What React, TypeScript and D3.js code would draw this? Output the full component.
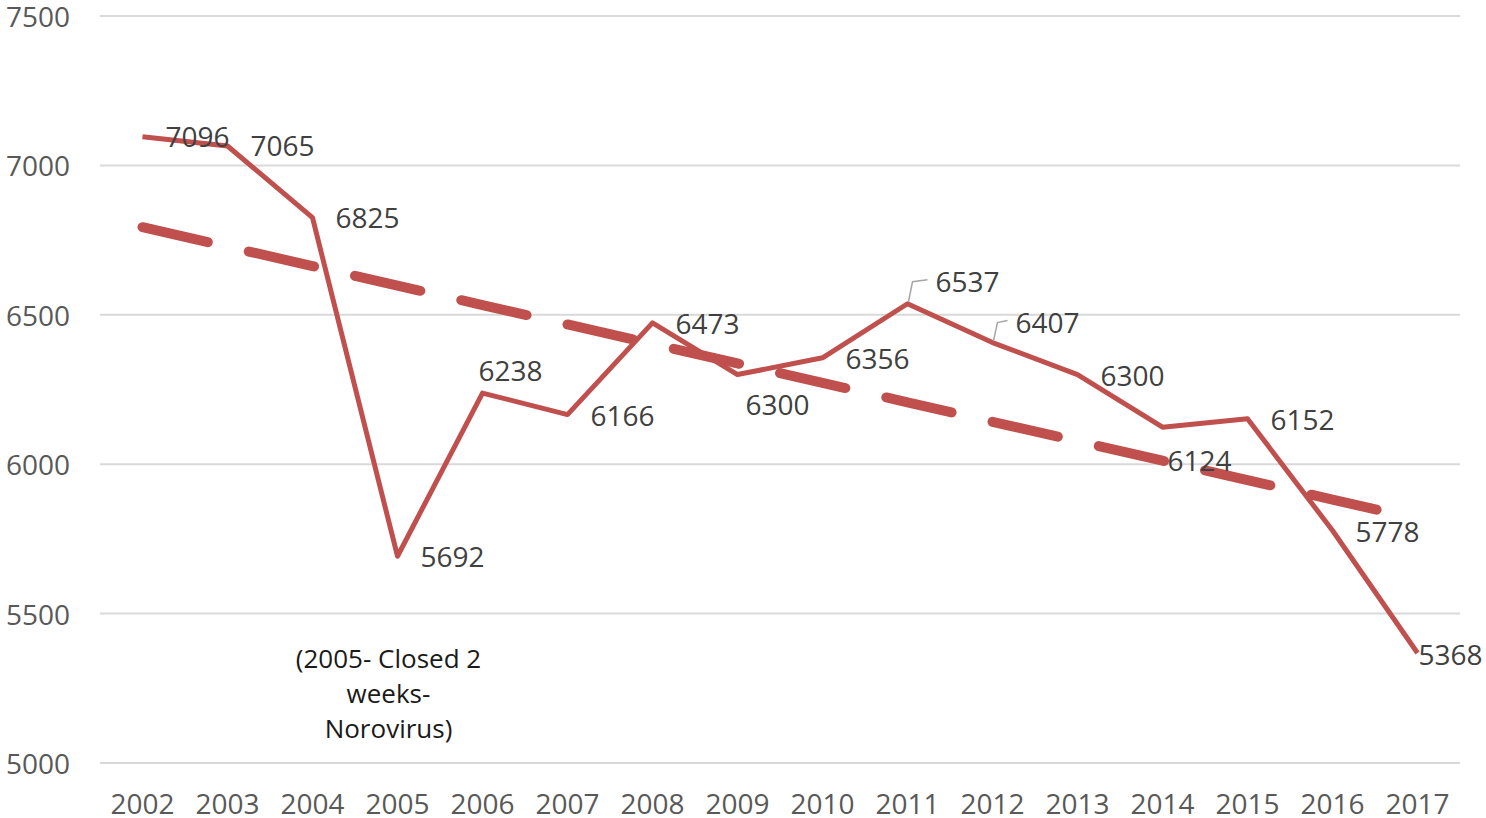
import React from "react";
import * as d3 from "d3";

const years = ["2002", "2003", "2004", "2005", "2006", "2007", "2008", "2009", "2010", "2011", "2012", "2013", "2014", "2015", "2016", "2017"];
const visitors = [7096, 7065, 6825, 5692, 6238, 6166, 6473, 6300, 6356, 6537, 6407, 6300, 6124, 6152, 5778, 5368];
const yTicks = [5000, 5500, 6000, 6500, 7000, 7500];
const noteLines = ["(2005- Closed 2", "weeks-", "Norovirus)"];

// label placement (px offsets from the point), like Excel's manually dragged labels
const labelOffsets: [number, number][] = [
  [23, -1], [23, -1], [23, -1], [23, 0], [-4, -23], [23, 0], [23, 0], [8, 29],
  [23, 0], [28, -23], [23, -21], [23, 0], [5, 33], [23, 0], [23, 0], [1, 1],
];
const leaderLabels = ["2011", "2012"];

const W = 1486;
const H = 818;
const margin = { top: 16, right: 26, bottom: 55, left: 100 };
const RED = "#C0504D";
const FONT = "'Open Sans', sans-serif";

export default function App() {
  const x = d3
    .scaleBand()
    .domain(years)
    .range([margin.left, W - margin.right])
    .padding(0);
  const cx = (yr: string) => (x(yr) as number) + x.bandwidth() / 2;
  const y = d3
    .scaleLinear()
    .domain([5000, 7500])
    .range([H - margin.bottom, margin.top]);

  const line = d3
    .line<number>()
    .x((_, i) => cx(years[i]))
    .y((d) => y(d));

  // linear trend, same as Excel's linear trendline
  const idx = visitors.map((_, i) => i);
  const mx = d3.mean(idx) as number;
  const my = d3.mean(visitors) as number;
  const slope =
    d3.sum(idx, (i) => (i - mx) * (visitors[i] - my)) /
    d3.sum(idx, (i) => (i - mx) ** 2);
  const trend = idx.map((i) => my + slope * (i - mx));

  return (
    <svg
      width={W}
      height={H}
      style={{ position: "absolute", left: 0, top: 0, background: "#fff" }}
      fontFamily={FONT}
    >
      {yTicks.map((t) => (
        <g key={t}>
          <line x1={margin.left} x2={W - margin.right} y1={y(t)} y2={y(t)} stroke="#D9D9D9" strokeWidth={2} />
          <text x={70} y={y(t)} textAnchor="end" dominantBaseline="central" fontSize={28} fill="#595959">
            {t}
          </text>
        </g>
      ))}
      {years.map((yr) => (
        <text key={yr} x={cx(yr)} y={H - 15} textAnchor="middle" dominantBaseline="central" fontSize={28} fill="#595959">
          {yr}
        </text>
      ))}

      <path
        d={line(trend) || ""}
        fill="none"
        stroke={RED}
        strokeWidth={10}
        strokeDasharray="67 42"
        strokeLinecap="round"
      />
      <path d={line(visitors) || ""} fill="none" stroke={RED} strokeWidth={5} strokeLinejoin="round" />

      {visitors.map((v, i) => {
        const px = cx(years[i]);
        const py = y(v);
        const [dx, dy] = labelOffsets[i];
        const lx = px + dx;
        const ly = py + dy;
        return (
          <g key={years[i]}>
            {leaderLabels.includes(years[i]) && (
              <polyline
                points={`${px + 1},${py - 2} ${px + 5},${ly + 1} ${lx - 8},${ly - 1}`}
                fill="none"
                stroke="#A6A6A6"
                strokeWidth={1.5}
              />
            )}
            <text x={lx} y={ly} dominantBaseline="central" fontSize={28} fill="#404040">
              {v}
            </text>
          </g>
        );
      })}

      {noteLines.map((s, i) => (
        <text
          key={s}
          x={cx("2005") - 9}
          y={y(5000) - 105 + i * 35}
          textAnchor="middle"
          dominantBaseline="central"
          fontSize={26}
          fill="#1a1a1a"
        >
          {s}
        </text>
      ))}
    </svg>
  );
}
